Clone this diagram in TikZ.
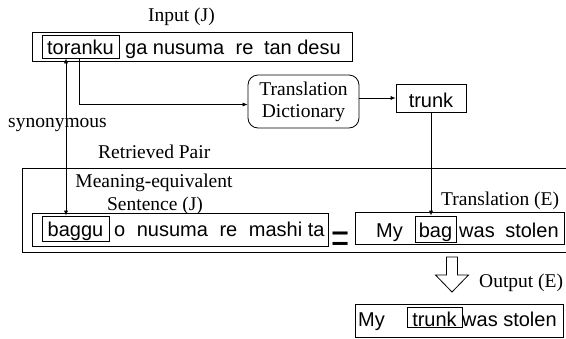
\documentclass[tikz,border=0pt]{standalone}
\usepackage{fontspec}
\setmainfont{Liberation Serif}
\newfontfamily\arialf{Liberation Sans}
\usepackage{graphicx}
\usetikzlibrary{arrows.meta}

\tikzset{
 lbl/.style={font=\fontsize{19.5}{22}\selectfont, inner sep=0pt, anchor=base west},
 snt/.style={font=\arialf\fontsize{20}{24}\selectfont, inner sep=0pt, anchor=base west},
 sbox/.style={draw, line width=0.8pt, inner sep=0pt},
 wbox/.style={draw, line width=0.7pt, inner sep=0pt, font=\arialf\fontsize{20}{24}\selectfont, anchor=base},
 arr/.style={line width=0.7pt, -{Latex[length=5pt,width=4pt]}},
 syn/.style={line width=0.7pt, {Latex[length=5pt,width=4pt]}-{Latex[length=5pt,width=4pt]}},
 dict/.style={draw, rounded corners=10pt, line width=0.8pt, inner sep=0pt, align=center, font=\fontsize{19.5}{22}\selectfont},
}

\begin{document}
\begin{tikzpicture}[x=1pt,y=-1pt]
\useasboundingbox (0,0) rectangle (566,338);

% labels
\node[lbl] (inlbl) at (148,21) {Input (J)};
\node[lbl] (synlbl) at (8,127) {synonymous};
\node[lbl] (rplbl) at (98,158) {Retrieved Pair};
\node[lbl, anchor=base] (meq1) at (154,187) {Meaning-equivalent};
\node[lbl, anchor=base] (meq2) at (155,210) {Sentence (J)};
\node[lbl] (trlbl) at (441,205) {Translation (E)};
\node[lbl] (outlbl) at (479,287) {Output (E)};

% retrieved pair frame
\draw[line width=0.8pt] (566,168) -| (22,252) -- (566,252);

% sentence boxes
\node[sbox, minimum width=320pt, minimum height=29pt] (inbox) at (192,46.5) {};
\node[sbox, minimum width=296pt, minimum height=33pt] (jbox) at (180,229.5) {};
\node[sbox, minimum width=209pt, minimum height=32pt] (ebox) at (459.5,228.5) {};
\node[sbox, minimum width=208pt, minimum height=33pt] (obox) at (459,320.5) {};

% boxed words
\node[wbox, minimum width=77pt, text height=19pt, text depth=4pt] (toranku) at (80.5,54) {toranku};
\node[wbox, minimum width=70pt, text height=23pt, text depth=5pt] (trunkd) at (431,107) {trunk};
\node[wbox, minimum width=67pt, text height=20pt, text depth=5pt] (baggu) at (75.5,236) {baggu};
\node[wbox, minimum width=41pt, text height=21pt, text depth=5pt] (bag) at (435.5,237) {bag};
\node[wbox, minimum width=55pt, text height=19pt, text depth=1pt] (trunko) at (434.5,326) {trunk};

% sentence texts
\node[snt] (intxt) at (125,54) {ga nusuma\hspace{6pt} re\hspace{5pt} tan desu};
\node[snt] (jtxt) at (114,236) {o\hspace{6pt} nusuma\hspace{6pt} re\hspace{6pt} mashi ta};
\node[snt] (emy) at (376,237) {My};
\node[snt] (etxt) at (459,237) {was\hspace{5pt} stolen};
\node[snt] (omy) at (358,326) {My};
\node[snt] (otxt) at (462,326) {was stolen};

% equals sign
\node[font=\arialf\fontsize{31}{31}\selectfont, inner sep=0pt] (eq) at (340.5,242) {\scalebox{1}[1.35]{=}};

% dictionary
\node[dict, minimum width=111pt, minimum height=53pt] (td) at (303.5,101.5) {Translation\\Dictionary};

% connectors
\draw[arr] ([xshift=-1.5pt]toranku.south) |- ([yshift=-3pt]td.west);
\draw[arr] (td.east |- trunkd.west) -- (trunkd.west);
\draw[arr] (trunkd.south) -- (trunkd.south |- bag.north);
\draw[syn] ([xshift=-14.5pt]toranku.south) -- ([xshift=-14.5pt]toranku.south |- baggu.north);

% hollow output arrow
\draw[line width=0.8pt] (446.5,257) -- (457.5,257) -- (457.5,275) -- (468.5,275) -- (452,292) -- (435.5,275) -- (446.5,275) -- cycle;
\end{tikzpicture}
\end{document}
